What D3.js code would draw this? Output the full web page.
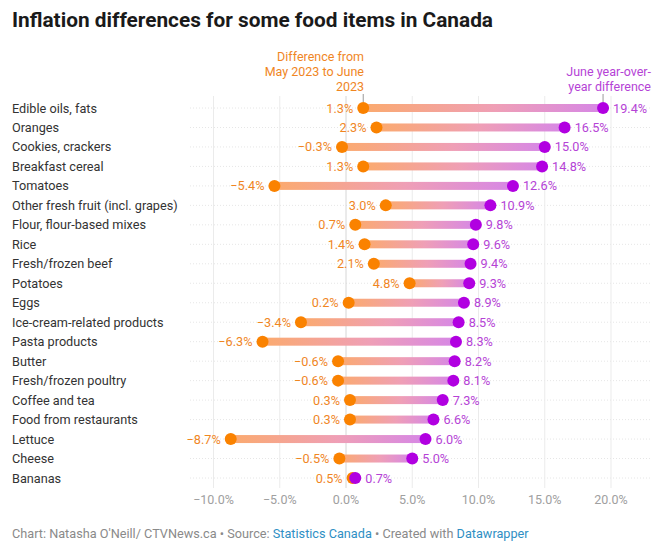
<!DOCTYPE html>
<html>
<head>
<meta charset="utf-8">
<script src="https://cdn.jsdelivr.net/npm/d3@7"></script>
<style>
  body { margin: 0; background: #fff; font-family: Roboto, sans-serif; }
</style>
</head>
<body>
<div id="chart"></div>
<script>
var items = ['Edible oils, fats', 'Oranges', 'Cookies, crackers', 'Breakfast cereal', 'Tomatoes',
  'Other fresh fruit (incl. grapes)', 'Flour, flour-based mixes', 'Rice', 'Fresh/frozen beef', 'Potatoes',
  'Eggs', 'Ice-cream-related products', 'Pasta products', 'Butter', 'Fresh/frozen poultry',
  'Coffee and tea', 'Food from restaurants', 'Lettuce', 'Cheese', 'Bananas']
var monthly = [1.3, 2.3, -0.3, 1.3, -5.4, 3.0, 0.7, 1.4, 2.1, 4.8, 0.2, -3.4, -6.3, -0.6, -0.6, 0.3, 0.3, -8.7, -0.5, 0.5]
var yearly = [19.4, 16.5, 15.0, 14.8, 12.6, 10.9, 9.8, 9.6, 9.4, 9.3, 8.9, 8.5, 8.3, 8.2, 8.1, 7.3, 6.6, 6.0, 5.0, 0.7]
var ticks = [-10, -5, 0, 5, 10, 15, 20]

var W = 660, H = 544
var orange = '#fa8200', purple = '#b100e1'
var orangeText = '#f0861f', purpleText = '#b543d6'

var svg = d3.select('#chart').append('svg').attr('width', W).attr('height', H)

var x = d3.scaleLinear().domain([-10, 20]).range([213.5, 611])
var y = d3.scalePoint().domain(items).range([108, 478])

var fmt = function(v){ return (v < 0 ? '\u2212' : '') + Math.abs(v).toFixed(1) + '%' }

var defs = svg.append('defs')
var grad = defs.append('linearGradient').attr('id', 'bar')
grad.append('stop').attr('offset', '0%').attr('stop-color', '#fbaa6e')
grad.append('stop').attr('offset', '55%').attr('stop-color', '#ef9fb6')
grad.append('stop').attr('offset', '100%').attr('stop-color', '#d687e6')

// title
svg.append('text').attr('x', 12).attr('y', 27)
  .attr('font-size', 20.8).attr('font-weight', 700).attr('fill', '#1a1a1a')
  .text('Inflation differences for some food items in Canada')

// row dotted lines
svg.append('g').selectAll('line').data(items).join('line')
  .attr('x1', 190).attr('x2', 652)
  .attr('y1', function(d){ return y(d) }).attr('y2', function(d){ return y(d) })
  .attr('stroke', '#e6e6e6').attr('stroke-width', 1).attr('stroke-dasharray', '1,2')

// vertical grid
svg.append('g').selectAll('line').data(ticks).join('line')
  .attr('x1', function(d){ return x(d) }).attr('x2', function(d){ return x(d) })
  .attr('y1', 96).attr('y2', 488)
  .attr('stroke', function(d){ return d === 0 ? '#d6d6d6' : '#ebebeb' }).attr('stroke-width', 1)

// axis labels
svg.append('g').selectAll('text').data(ticks).join('text')
  .attr('x', function(d){ return x(d) }).attr('y', 504)
  .attr('text-anchor', 'middle').attr('font-size', 12.5).attr('fill', '#a0a0a0')
  .text(fmt)

// row labels
svg.append('g').selectAll('text').data(items).join('text')
  .attr('x', 12).attr('y', function(d){ return y(d) + 4.5 })
  .attr('font-size', 12.7).attr('fill', '#333')
  .text(function(d){ return d })

// bars
var rows = svg.append('g').selectAll('g').data(items).join('g')
rows.append('rect')
  .attr('x', function(d, i){ return x(Math.min(monthly[i], yearly[i])) })
  .attr('width', function(d, i){ return Math.abs(x(yearly[i]) - x(monthly[i])) })
  .attr('y', function(d){ return y(d) - 4 }).attr('height', 8)
  .attr('fill', 'url(#bar)')
rows.append('circle')
  .attr('cx', function(d, i){ return x(monthly[i]) }).attr('cy', function(d){ return y(d) })
  .attr('r', 6).attr('fill', orange)
rows.append('circle')
  .attr('cx', function(d, i){ return x(yearly[i]) }).attr('cy', function(d){ return y(d) })
  .attr('r', 6).attr('fill', purple)
rows.append('text')
  .attr('x', function(d, i){ return x(monthly[i]) - 10 }).attr('y', function(d){ return y(d) + 4.5 })
  .attr('text-anchor', 'end').attr('font-size', 12.7).attr('fill', orangeText)
  .text(function(d, i){ return fmt(monthly[i]) })
rows.append('text')
  .attr('x', function(d, i){ return x(yearly[i]) + 10 }).attr('y', function(d){ return y(d) + 4.5 })
  .attr('font-size', 12.7).attr('fill', purpleText)
  .text(function(d, i){ return fmt(yearly[i]) })

// annotations
var ann = [
  { lines: ['Difference from', 'May 2023 to June', '2023'], x: 364, lx: x(monthly[0]), color: orangeText },
  { lines: ['June year-over-', 'year difference'], x: 651, lx: x(yearly[0]), color: purpleText }
]
ann.forEach(function(a){
  var n = a.lines.length
  var t = svg.append('text').attr('text-anchor', 'end').attr('font-size', 12.5).attr('fill', a.color)
  a.lines.forEach(function(l, k){
    t.append('tspan').attr('x', a.x).attr('y', 91 - (n - 1 - k) * 15).text(l)
  })
  svg.append('line').attr('x1', a.lx).attr('x2', a.lx).attr('y1', 94).attr('y2', 102)
    .attr('stroke', '#999').attr('stroke-width', 1)
})

// footer
var foot = svg.append('text').attr('x', 12).attr('y', 538).attr('font-size', 12.7).attr('fill', '#8a8a8a')
foot.append('tspan').text("Chart: Natasha O'Neill/ CTVNews.ca \u2022 Source: ")
foot.append('tspan').attr('fill', '#2f8fc4').text('Statistics Canada')
foot.append('tspan').text(' \u2022 Created with ')
foot.append('tspan').attr('fill', '#2f8fc4').text('Datawrapper')
</script>
</body>
</html>
